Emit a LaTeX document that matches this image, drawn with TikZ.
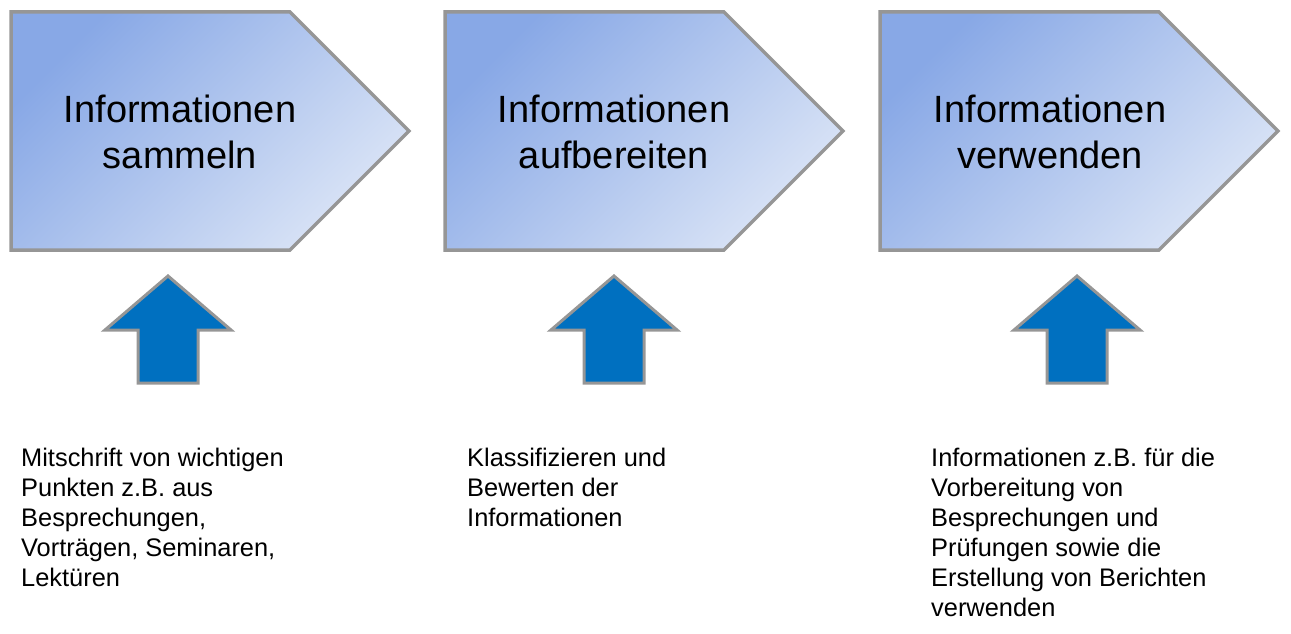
\documentclass[tikz,border=0pt]{standalone}
\usepackage{fontspec}
\setmainfont{Liberation Sans}
\definecolor{penedge}{RGB}{150,150,150}
\definecolor{pendark}{RGB}{136,168,230}
\definecolor{penlight}{RGB}{218,228,246}
\definecolor{arrowblue}{RGB}{0,112,192}
\tikzset{
  penta/.style={draw=penedge, line width=3.5pt, line join=miter, top color=pendark, bottom color=penlight, shading angle=45},
  uparrow/.style={draw=penedge, line width=3pt, line join=miter, fill=arrowblue},
  headtext/.style={font=\fontsize{38}{46}\selectfont, align=center, inner sep=0pt},
  bodytext/.style={font=\fontsize{25.4}{30}\selectfont, align=left, inner sep=0pt, anchor=north west}
}
\begin{document}
\begin{tikzpicture}[x=1pt,y=-1pt]
\useasboundingbox (0,0) rectangle (1291,634);
% pentagons
\foreach \dx in {0,434,869}{
  \shade[penta] (11+\dx,12) -- (290+\dx,12) -- (409+\dx,131) -- (290+\dx,250) -- (11+\dx,250) -- cycle;
}
\node[headtext] (h1) at (180,132) {Informationen\\sammeln};
\node[headtext] (h2) at (614,132) {Informationen\\aufbereiten};
\node[headtext] (h3) at (1050,132) {Informationen\\verwenden};
% up arrows
\foreach \cx in {168,614,1077}{
  \draw[uparrow] (\cx,276) -- (\cx+63,330) -- (\cx+30,330) -- (\cx+30,383) -- (\cx-30,383) -- (\cx-30,330) -- (\cx-63,330) -- cycle;
}
% descriptions
\node[bodytext] (t1) at (21,448) {Mitschrift von wichtigen\\Punkten z.B. aus\\Besprechungen,\\Vorträgen, Seminaren,\\Lektüren};
\node[bodytext] (t2) at (467,448) {Klassifizieren und\\Bewerten der\\Informationen};
\node[bodytext] (t3) at (931,448) {Informationen z.B. für die\\Vorbereitung von\\Besprechungen und\\Prüfungen sowie die\\Erstellung von Berichten\\verwenden};
\end{tikzpicture}
\end{document}
